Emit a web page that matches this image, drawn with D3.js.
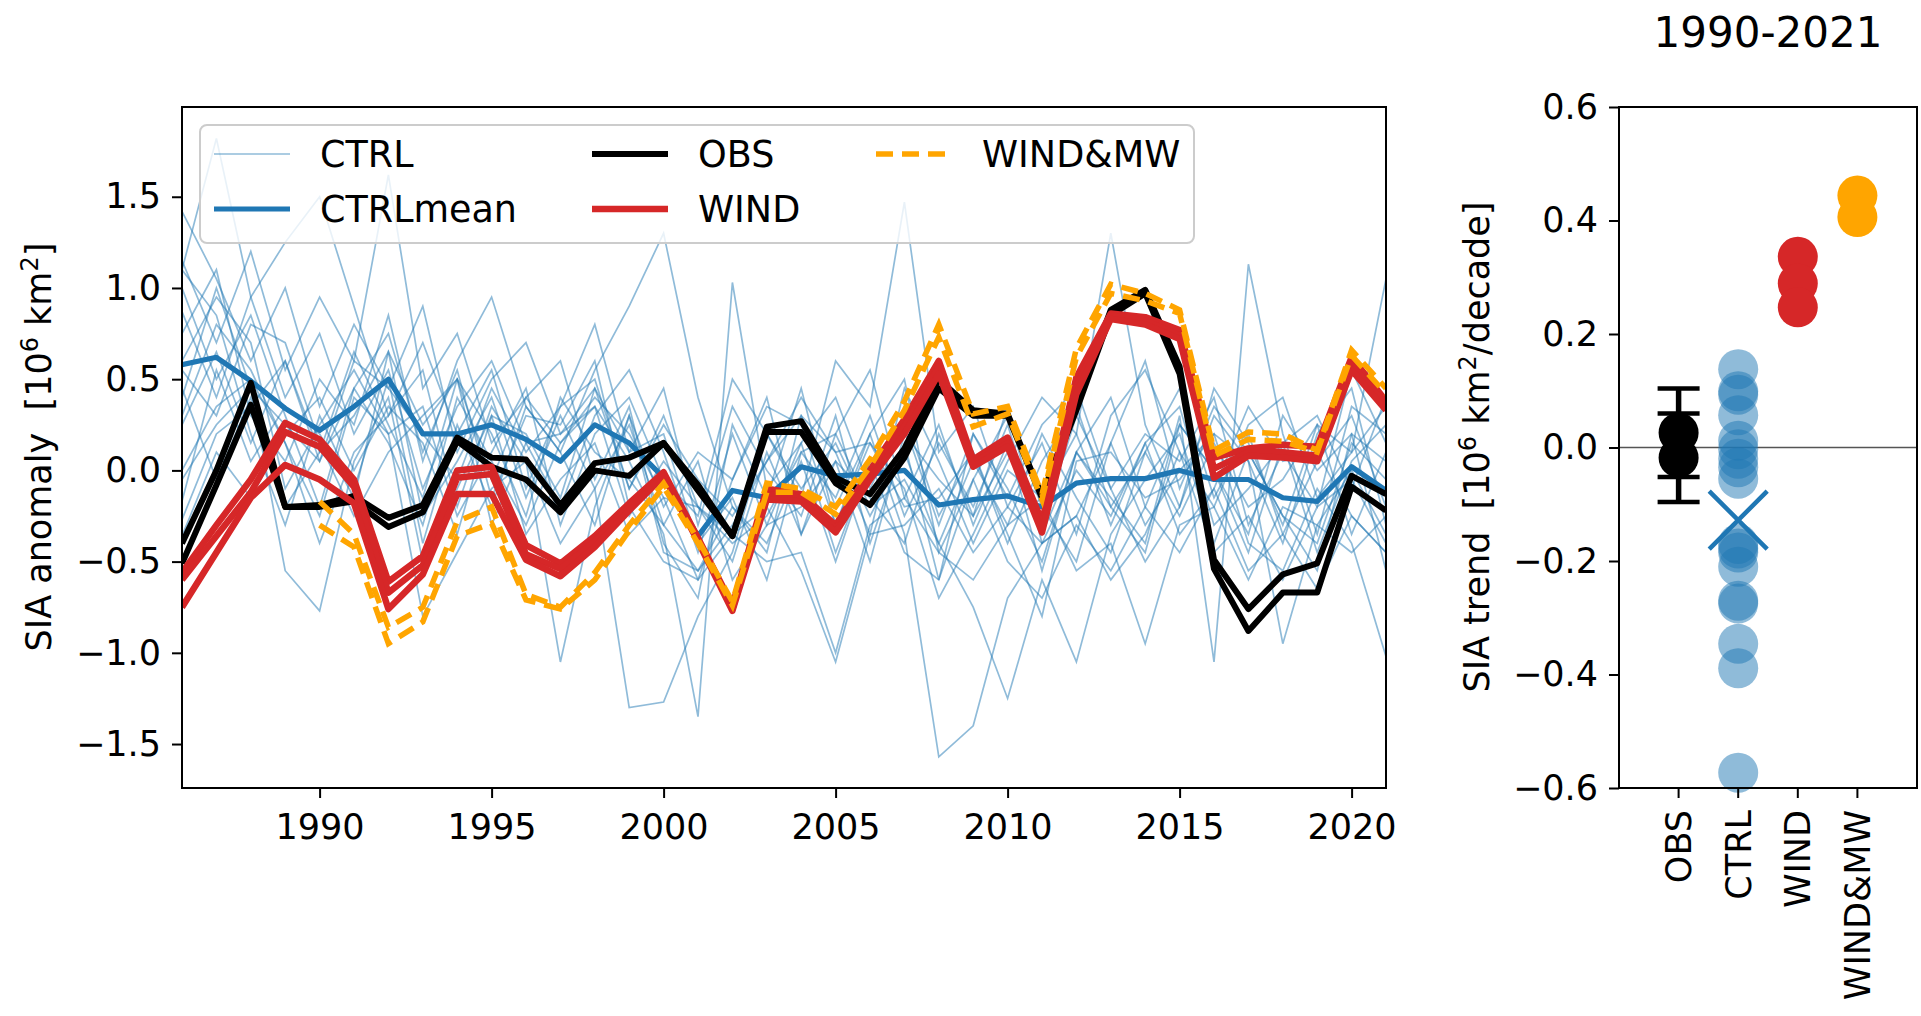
<!DOCTYPE html>
<html>
<head>
<meta charset="utf-8">
<script src="https://cdn.jsdelivr.net/npm/d3@7"></script>
<style>
  body { margin: 0; background: #fff; }
  text { font-family: "DejaVu Sans", sans-serif; fill: #000; }
</style>
</head>
<body>
<div id="chart"></div>
<script>
// years shown in the time series panel
var years = d3.range(1986, 2022);
var yearsMW = d3.range(1990, 2022);

// CTRL ensemble members (SIA anomaly, 10^6 km2), one row per member
var ctrl = [
  [1.10,1.82,0.95,0.40,0.75,0.20,0.55,-0.10,0.35,0.60,0.15,-0.20,0.30,0.55,0.10,-0.45,0.20,-0.30,0.15,0.40,-0.10,0.30,-0.25,0.10,-0.40,0.05,0.35,-0.20,0.10,0.45,-0.15,0.20,-0.35,0.05,0.30,-0.20],
  [1.42,1.05,0.60,1.00,0.35,0.80,0.45,0.90,0.10,0.50,0.70,0.20,0.45,-0.10,0.30,-0.20,-0.50,0.10,-0.35,0.20,0.55,-0.15,0.25,-0.30,0.15,-0.55,0.10,0.40,-0.20,0.25,0.00,-0.45,0.15,0.30,-0.10,0.40],
  [1.15,0.70,1.20,0.55,0.95,0.60,1.62,0.45,0.75,0.15,0.40,0.60,-0.05,0.35,-0.40,-0.70,0.25,-0.15,0.45,-0.30,0.20,0.50,-0.45,-0.05,0.30,-0.20,-0.50,0.15,0.60,-0.10,0.35,0.10,-0.25,-0.55,0.20,0.05],
  [0.87,0.40,0.95,1.25,1.50,0.90,0.30,0.70,0.20,0.55,-0.10,0.35,0.80,0.10,0.45,-0.30,0.35,0.00,-0.25,0.30,-0.40,0.15,-0.60,0.20,-0.15,0.25,0.45,-0.10,0.20,0.05,0.40,-0.30,0.10,-0.20,0.55,0.15],
  [0.75,1.10,0.30,0.05,0.50,0.25,0.85,0.05,0.60,0.95,0.35,0.10,0.55,0.90,1.30,0.40,-0.20,-0.45,0.30,0.10,-0.35,0.45,0.05,-0.40,0.00,-0.15,0.20,-0.30,0.15,-0.35,-0.10,0.35,0.05,0.10,-0.25,-0.45],
  [0.60,0.95,0.70,-0.10,0.25,0.55,0.20,0.35,-0.25,0.10,0.45,-0.30,0.20,0.40,-0.05,-0.25,0.50,0.20,-0.15,0.60,0.35,1.47,0.10,0.35,-0.20,0.15,-0.35,0.30,0.55,0.10,-0.20,0.25,0.40,-0.15,0.10,0.35],
  [1.00,0.50,0.85,0.30,-0.20,0.45,0.75,0.10,0.55,-0.15,0.30,0.25,0.60,-0.20,-0.50,-0.60,-0.05,0.35,0.25,-0.30,0.15,-0.10,-0.70,-0.35,0.05,0.40,0.20,1.30,0.25,-0.20,0.30,0.05,-0.40,0.20,0.45,-0.30],
  [0.25,0.65,0.15,0.60,0.10,0.30,0.65,-0.25,0.05,0.40,-0.15,0.30,-0.10,0.25,-0.30,-0.55,-0.30,0.05,0.30,-0.20,0.20,-0.35,-1.57,-1.40,-0.70,-0.40,0.00,-0.25,0.15,0.35,-0.30,-0.10,0.15,-0.45,0.05,0.25],
  [0.00,0.35,0.50,0.15,-0.40,0.10,0.30,0.55,-0.20,0.35,0.05,-0.40,-0.10,-1.30,-1.27,-0.80,-0.45,0.20,-0.10,0.15,-0.25,0.10,-0.40,0.05,-0.30,0.20,-0.15,-0.45,0.10,-0.25,0.15,-0.20,-0.05,0.25,-0.35,0.10],
  [-0.17,0.55,0.05,0.35,0.20,-0.15,0.65,0.25,0.50,-0.05,0.40,0.15,0.35,0.05,-0.35,-1.35,1.03,-0.10,0.15,-0.45,0.05,0.25,-0.30,0.20,-0.10,-0.50,0.10,-0.20,-0.45,0.25,0.00,-0.35,0.30,0.00,0.20,-0.55],
  [-0.27,0.20,0.35,0.60,0.05,0.45,0.15,-0.30,0.40,0.05,-0.30,0.15,0.40,0.20,-0.15,-0.20,-0.40,-0.25,0.10,0.20,-0.20,-0.05,-0.40,-0.75,-1.25,-0.60,-1.05,-0.35,-0.05,0.20,-0.40,0.10,-0.25,-0.40,0.15,-0.05],
  [-0.36,0.10,-0.15,0.20,0.40,0.00,0.35,0.15,-0.35,0.30,0.20,-0.15,0.45,0.10,0.20,-0.40,-0.15,-0.60,0.10,-0.15,0.30,-0.25,0.15,-0.20,0.25,-0.35,0.10,-0.15,-0.40,0.30,-1.05,1.13,0.20,-0.35,0.35,0.20],
  [0.45,-0.05,0.40,-0.20,0.10,0.65,0.25,-0.15,0.50,0.20,-0.25,0.40,0.10,-0.05,-0.30,0.05,-0.60,-0.30,-0.20,0.05,-0.50,0.20,-0.05,-0.25,0.35,-0.40,-0.25,0.15,-0.30,0.00,0.20,-0.40,-0.55,-0.10,-0.40,-1.02],
  [1.10,0.85,0.20,-0.30,0.30,-0.10,0.50,-0.40,0.25,-0.20,0.35,0.10,-0.30,0.30,-0.20,0.10,-0.05,0.40,-0.35,0.05,-0.15,-0.40,0.20,-0.25,0.10,-0.30,0.30,-0.10,-0.50,-0.20,0.45,0.15,-0.30,0.25,0.10,1.05],
  [-0.05,0.25,0.45,-0.55,-0.77,0.05,0.40,-0.50,-0.10,0.30,-0.35,-0.05,0.15,-0.35,-0.15,-0.60,-0.35,-0.20,-0.55,-1.05,-0.35,-0.30,-0.10,-0.45,-0.20,-0.40,-0.25,-0.60,-0.35,0.10,-0.45,-0.25,-0.60,-0.20,-0.05,-0.40],
  [0.30,0.80,0.55,0.15,-0.25,0.40,0.20,-0.80,-0.45,-0.10,0.05,-1.05,-0.20,0.30,-0.45,-0.55,-0.20,-0.40,0.05,-0.50,0.05,-0.45,-0.60,-0.05,-0.50,-0.70,-0.30,-0.55,-0.20,-0.45,-0.10,-0.55,-0.35,-0.65,-0.25,-0.45],
  [0.55,0.30,0.80,0.70,0.15,-0.25,0.10,0.30,0.50,-0.30,0.15,0.20,0.35,-0.25,0.05,-0.20,-0.35,-0.50,-0.45,-1.00,-0.30,-0.15,-0.45,-0.60,-0.30,-0.15,-0.55,-0.40,-0.95,-0.30,-0.20,-0.60,-0.20,-0.30,-0.45,-0.25],
  [0.40,1.00,0.45,0.25,0.05,0.60,0.45,0.20,-0.05,0.45,0.10,0.35,0.50,-0.10,0.25,-0.05,-0.25,0.05,0.40,0.10,0.15,-0.20,-0.15,0.10,-0.35,-0.80,0.05,0.10,-0.15,-0.05,0.20,0.05,-0.95,-0.30,0.00,-0.35]
];

var ctrlMean = [0.58,0.62,0.49,0.34,0.22,0.35,0.50,0.20,0.20,0.25,0.17,0.05,0.25,0.15,-0.04,-0.36,-0.11,-0.15,0.02,-0.03,-0.02,0.00,-0.19,-0.16,-0.14,-0.20,-0.07,-0.045,-0.045,0.00,-0.05,-0.05,-0.15,-0.17,0.02,-0.11];

var obs = [
  [-0.40,0.00,0.48,-0.20,-0.19,-0.14,-0.26,-0.19,0.18,0.07,0.06,-0.19,0.04,0.07,0.15,-0.08,-0.36,0.24,0.27,-0.04,-0.13,0.12,0.50,0.33,0.31,-0.14,0.37,0.88,0.99,0.57,-0.49,-0.76,-0.57,-0.51,-0.03,-0.13],
  [-0.51,-0.08,0.36,-0.20,-0.20,-0.17,-0.31,-0.23,0.16,0.02,-0.05,-0.23,0.00,-0.03,0.15,-0.11,-0.36,0.21,0.21,-0.07,-0.19,0.07,0.45,0.30,0.30,-0.15,0.33,0.85,0.97,0.53,-0.54,-0.88,-0.67,-0.67,-0.09,-0.22]
];

var wind = [
  [-0.56,-0.30,-0.05,0.26,0.17,-0.05,-0.61,-0.47,0.00,0.02,-0.41,-0.51,-0.36,-0.18,-0.01,-0.37,-0.74,-0.10,-0.13,-0.30,0.00,0.28,0.60,0.06,0.18,-0.28,0.51,0.86,0.84,0.77,0.07,0.12,0.14,0.13,0.62,0.38],
  [-0.60,-0.36,-0.12,0.21,0.13,-0.09,-0.67,-0.52,-0.04,-0.02,-0.46,-0.54,-0.39,-0.20,-0.02,-0.38,-0.76,-0.13,-0.15,-0.32,-0.03,0.24,0.57,0.04,0.15,-0.31,0.46,0.85,0.82,0.74,0.01,0.10,0.10,0.08,0.58,0.36],
  [-0.75,-0.45,-0.15,0.03,-0.05,-0.18,-0.76,-0.57,-0.13,-0.13,-0.49,-0.58,-0.42,-0.22,-0.03,-0.39,-0.77,-0.16,-0.17,-0.34,-0.05,0.20,0.53,0.02,0.13,-0.34,0.42,0.83,0.80,0.72,-0.04,0.08,0.07,0.05,0.55,0.33]
];

var windMW = [
  [-0.17,-0.35,-0.86,-0.75,-0.28,-0.20,-0.68,-0.75,-0.56,-0.30,-0.07,-0.38,-0.72,-0.07,-0.10,-0.20,0.06,0.38,0.80,0.31,0.35,-0.13,0.67,1.02,0.97,0.88,0.11,0.21,0.20,0.11,0.66,0.45],
  [-0.30,-0.42,-0.95,-0.83,-0.36,-0.29,-0.71,-0.76,-0.60,-0.33,-0.09,-0.40,-0.74,-0.12,-0.12,-0.24,0.02,0.33,0.73,0.24,0.31,-0.16,0.62,0.97,0.93,0.86,0.08,0.17,0.16,0.10,0.63,0.42]
];

// trends 1990-2021 (10^6 km2/decade)
var trendCats = ["OBS", "CTRL", "WIND", "WIND&MW"];
var obsTrend = [0.026, -0.018];
var obsTrendErr = 0.078;
var ctrlTrend = [0.138,0.099,0.093,0.057,0.012,-0.003,-0.020,-0.035,-0.055,-0.170,-0.178,-0.185,-0.210,-0.270,-0.275,-0.346,-0.389,-0.573];
var ctrlTrendMean = -0.128;
var windTrend = [0.336, 0.289, 0.247];
var windMWTrend = [0.444, 0.406];

var xTicks = [1990, 1995, 2000, 2005, 2010, 2015, 2020];
var yTicks = [-1.5, -1.0, -0.5, 0.0, 0.5, 1.0, 1.5];
var yTicksR = [-0.6, -0.4, -0.2, 0.0, 0.2, 0.4, 0.6];

var C_BLUE = "#1f77b4", C_RED = "#d62728", C_ORANGE = "#ffa500";
var FS = 35;
var DASH = "17,9";

var svg = d3.select("#chart").append("svg")
    .attr("width", 1921)
    .attr("height", 1016);

function fmt(d) { return d3.format(".1f")(d).replace("-", "\u2212"); }

// ---------- left panel ----------
var L = {left: 182, right: 1386, top: 107, bottom: 788};
var x = d3.scaleLinear().domain([1986, 2021]).range([L.left, L.right]);
var y = d3.scaleLinear().domain([-1.741, 1.992]).range([L.bottom, L.top]);

svg.append("clipPath").attr("id", "clipL")
  .append("rect").attr("x", L.left).attr("y", L.top)
  .attr("width", L.right - L.left).attr("height", L.bottom - L.top);

var plotL = svg.append("g").attr("clip-path", "url(#clipL)");

function lineFor(yrs) {
    return d3.line().x(function(d, i) { return x(yrs[i]); }).y(function(d) { return y(d); });
}
var line = lineFor(years);
var lineMW = lineFor(yearsMW);

plotL.selectAll(".ctrl").data(ctrl).enter().append("path")
    .attr("class", "ctrl")
    .attr("d", line)
    .attr("fill", "none")
    .attr("stroke", C_BLUE)
    .attr("stroke-opacity", 0.5)
    .attr("stroke-width", 1.7);

plotL.append("path").attr("d", line(ctrlMean))
    .attr("fill", "none").attr("stroke", C_BLUE).attr("stroke-width", 5.2)
    .attr("stroke-linejoin", "round");

plotL.selectAll(".obs").data(obs).enter().append("path")
    .attr("d", line).attr("fill", "none").attr("stroke", "#000")
    .attr("stroke-width", 6).attr("stroke-linejoin", "round");

plotL.selectAll(".wind").data(wind).enter().append("path")
    .attr("d", line).attr("fill", "none").attr("stroke", C_RED)
    .attr("stroke-width", 6.5).attr("stroke-linejoin", "round");

plotL.selectAll(".windmw").data(windMW).enter().append("path")
    .attr("d", lineMW).attr("fill", "none").attr("stroke", C_ORANGE)
    .attr("stroke-width", 5.5).attr("stroke-dasharray", DASH);

// axes
var xAxis = d3.axisBottom(x).tickValues(xTicks).tickSize(10).tickPadding(16).tickFormat(d3.format("d"));
var gx = svg.append("g").attr("transform", "translate(0," + L.bottom + ")").call(xAxis);
var yAxis = d3.axisLeft(y).tickValues(yTicks).tickSize(10).tickPadding(11).tickFormat(fmt);
var gy = svg.append("g").attr("transform", "translate(" + L.left + ",0)").call(yAxis);

[gx, gy].forEach(function(g) {
    g.select(".domain").remove();
    g.selectAll(".tick line").attr("stroke", "#000").attr("stroke-width", 2);
    g.selectAll(".tick text").attr("font-size", FS).attr("font-family", "DejaVu Sans");
});

svg.append("rect").attr("x", L.left).attr("y", L.top)
    .attr("width", L.right - L.left).attr("height", L.bottom - L.top)
    .attr("fill", "none").attr("stroke", "#000").attr("stroke-width", 2);

// legend
var leg = svg.append("g");
leg.append("rect").attr("x", 200).attr("y", 125).attr("width", 994).attr("height", 118)
    .attr("rx", 7).attr("fill", "#fff").attr("fill-opacity", 0.8)
    .attr("stroke", "#ccc").attr("stroke-width", 2);

var legItems = [
    {label: "CTRL", color: C_BLUE, w: 1.7, op: 0.5, dash: null, col: 0, row: 0},
    {label: "CTRLmean", color: C_BLUE, w: 5.2, op: 1, dash: null, col: 0, row: 1},
    {label: "OBS", color: "#000", w: 6, op: 1, dash: null, col: 1, row: 0},
    {label: "WIND", color: C_RED, w: 6.5, op: 1, dash: null, col: 1, row: 1},
    {label: "WIND&MW", color: C_ORANGE, w: 5.5, op: 1, dash: DASH, col: 2, row: 0}
];
var colX = [214, 592, 876];
var rowY = [154, 209];
legItems.forEach(function(it) {
    var lx = colX[it.col], ly = rowY[it.row];
    leg.append("line").attr("x1", lx).attr("x2", lx + 76).attr("y1", ly).attr("y2", ly)
        .attr("stroke", it.color).attr("stroke-width", it.w).attr("stroke-opacity", it.op)
        .attr("stroke-dasharray", it.dash);
    leg.append("text").attr("x", lx + 106).attr("y", ly + 13)
        .attr("font-size", 36.5).text(it.label);
});

// y label left
var yl = svg.append("text")
    .attr("transform", "translate(51,447) rotate(-90)")
    .attr("text-anchor", "middle").attr("font-size", FS);
yl.append("tspan").text("SIA anomaly\u00a0\u00a0[10");
yl.append("tspan").attr("dy", -13).attr("font-size", 24).text("6");
yl.append("tspan").attr("dy", 13).text(" km");
yl.append("tspan").attr("dy", -13).attr("font-size", 24).text("2");
yl.append("tspan").attr("dy", 13).text("]");

// ---------- right panel ----------
var R = {left: 1619, right: 1917, top: 107, bottom: 788};
var xr = d3.scaleLinear().domain([-1, 4]).range([R.left, R.right]);
var yr = d3.scaleLinear().domain([-0.6, 0.6]).range([R.bottom, R.top]);

svg.append("line").attr("x1", R.left).attr("x2", R.right)
    .attr("y1", yr(0)).attr("y2", yr(0))
    .attr("stroke", "#555").attr("stroke-width", 1.3);

var rad = 20;
var gr = svg.append("g");

// OBS error bars
obsTrend.forEach(function(v) {
    var cx = xr(0);
    gr.append("line").attr("x1", cx).attr("x2", cx)
        .attr("y1", yr(v - obsTrendErr)).attr("y2", yr(v + obsTrendErr))
        .attr("stroke", "#000").attr("stroke-width", 5.5);
    [v - obsTrendErr, v + obsTrendErr].forEach(function(e) {
        gr.append("line").attr("x1", cx - 21).attr("x2", cx + 21)
            .attr("y1", yr(e)).attr("y2", yr(e))
            .attr("stroke", "#000").attr("stroke-width", 4.5);
    });
});
gr.selectAll(".obsdot").data(obsTrend).enter().append("circle")
    .attr("cx", xr(0)).attr("cy", function(d) { return yr(d); })
    .attr("r", rad).attr("fill", "#000");

gr.selectAll(".ctrldot").data(ctrlTrend).enter().append("circle")
    .attr("cx", xr(1)).attr("cy", function(d) { return yr(d); })
    .attr("r", rad).attr("fill", C_BLUE).attr("fill-opacity", 0.5);

var mx = xr(1), my = yr(ctrlTrendMean), mh = 29;
gr.append("path")
    .attr("d", "M" + (mx - mh) + "," + (my - mh) + "L" + (mx + mh) + "," + (my + mh) +
               "M" + (mx - mh) + "," + (my + mh) + "L" + (mx + mh) + "," + (my - mh))
    .attr("stroke", C_BLUE).attr("stroke-width", 4.5);

gr.selectAll(".winddot").data(windTrend).enter().append("circle")
    .attr("cx", xr(2)).attr("cy", function(d) { return yr(d); })
    .attr("r", rad).attr("fill", C_RED);

gr.selectAll(".mwdot").data(windMWTrend).enter().append("circle")
    .attr("cx", xr(3)).attr("cy", function(d) { return yr(d); })
    .attr("r", rad).attr("fill", C_ORANGE);

var yAxisR = d3.axisLeft(yr).tickValues(yTicksR).tickSize(10).tickPadding(11).tickFormat(fmt);
var gyr = svg.append("g").attr("transform", "translate(" + R.left + ",0)").call(yAxisR);
gyr.select(".domain").remove();
gyr.selectAll(".tick line").attr("stroke", "#000").attr("stroke-width", 2);
gyr.selectAll(".tick text").attr("font-size", FS).attr("font-family", "DejaVu Sans");

// category ticks, rotated labels
trendCats.forEach(function(c, i) {
    svg.append("line").attr("x1", xr(i)).attr("x2", xr(i))
        .attr("y1", R.bottom).attr("y2", R.bottom + 10)
        .attr("stroke", "#000").attr("stroke-width", 2);
    svg.append("text")
        .attr("transform", "translate(" + (xr(i) + 12.5) + "," + (R.bottom + 22) + ") rotate(-90)")
        .attr("text-anchor", "end").attr("font-size", FS).text(c);
});

svg.append("rect").attr("x", R.left).attr("y", R.top)
    .attr("width", R.right - R.left).attr("height", R.bottom - R.top)
    .attr("fill", "none").attr("stroke", "#000").attr("stroke-width", 2);

svg.append("text").attr("x", (R.left + R.right) / 2).attr("y", 47)
    .attr("text-anchor", "middle").attr("font-size", 42).text("1990-2021");

var yl2 = svg.append("text")
    .attr("transform", "translate(1489,447) rotate(-90)")
    .attr("text-anchor", "middle").attr("font-size", FS);
yl2.append("tspan").text("SIA trend\u00a0\u00a0[10");
yl2.append("tspan").attr("dy", -13).attr("font-size", 24).text("6");
yl2.append("tspan").attr("dy", 13).text(" km");
yl2.append("tspan").attr("dy", -13).attr("font-size", 24).text("2");
yl2.append("tspan").attr("dy", 13).text("/decade]");
</script>
</body>
</html>
